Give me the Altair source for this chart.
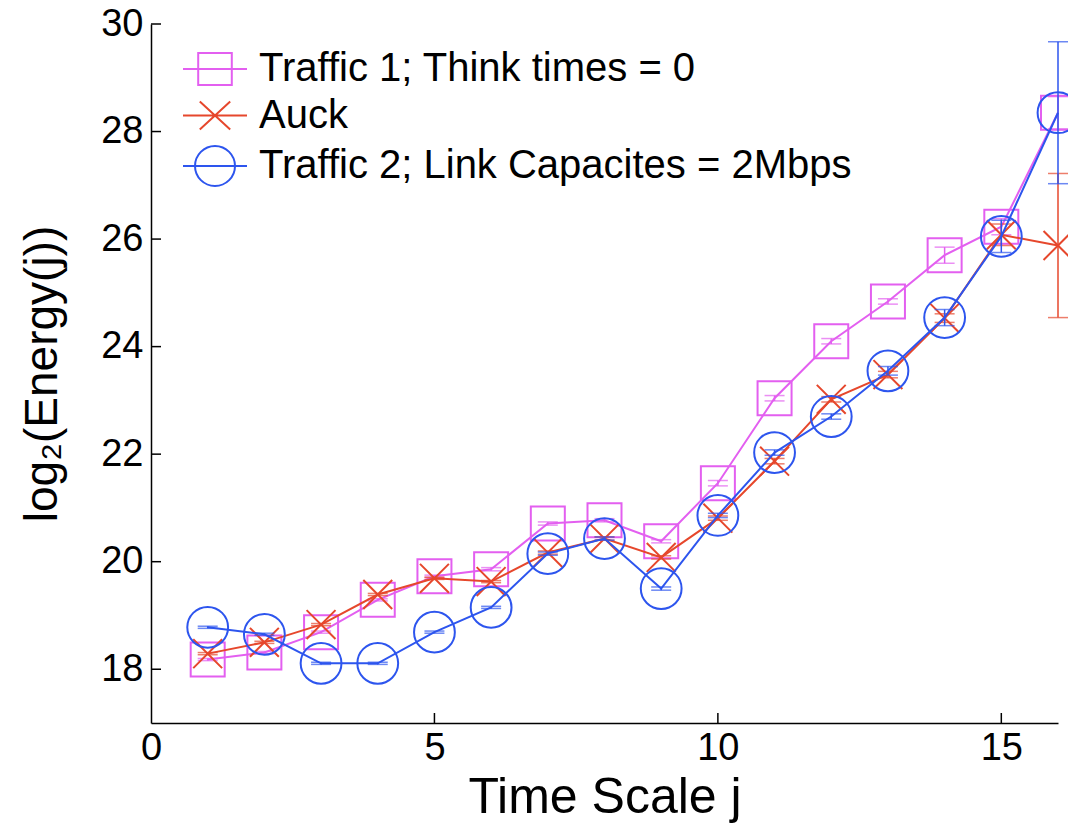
import altair as alt
import pandas as pd

# ---------------- data ----------------
scales_j = list(range(1, 17))
series_names = ["Traffic 1; Think times = 0", "Auck", "Traffic 2; Link Capacites = 2Mbps"]

traffic1 = [18.18, 18.31, 18.69, 19.29, 19.73, 19.86, 20.71, 20.77, 20.38, 21.46,
            23.04, 24.10, 24.84, 25.70, 26.23, 28.35]
auck = [18.29, 18.50, 18.83, 19.39, 19.69, 19.63, 20.17, 20.43, 20.08, 20.81,
        21.87, 23.02, 23.48, 24.53, 26.08, 25.88]
traffic2 = [18.78, 18.65, 18.11, 18.11, 18.69, 19.15, 20.15, 20.43, 19.50, 20.86,
            22.03, 22.70, 23.55, 24.54, 26.05, 28.35]

err_traffic1 = [0.02, 0.02, 0.02, 0.02, 0.02, 0.03, 0.03, 0.03, 0.03, 0.05,
                0.05, 0.05, 0.05, 0.15, 0.15, 0.30]
err_auck = [0.02, 0.02, 0.02, 0.02, 0.02, 0.02, 0.03, 0.03, 0.03, 0.04,
            0.05, 0.05, 0.06, 0.08, 0.20, 1.34]
err_traffic2 = [0.02, 0.02, 0.02, 0.02, 0.02, 0.02, 0.03, 0.03, 0.03, 0.04,
                0.05, 0.05, 0.08, 0.15, 0.30, 1.32]

y_tick_values = [18, 20, 22, 24, 26, 28, 30]
x_tick_values = [0, 5, 10, 15]

# ---------------- styles ----------------
FONT = "Liberation Sans"
colors = ["#e35ff0", "#e6472c", "#2d55ee"]
point_paths = [
    "M-1,-1H1V1H-1Z",
    "M-0.85,-0.85L0.85,0.85M-0.85,0.85L0.85,-0.85",
    "M1.2,0A1.2,1.2 0 1,1 -1.2,0A1.2,1.2 0 1,1 1.2,0",
]
legend_paths = [
    "M-2,0H2M-1.05,-1H1.05V1H-1.05Z",
    "M-2,0H2M-0.95,-0.87L0.95,0.87M-0.95,0.87L0.95,-0.87",
    "M-2,0H2M1.25,0A1.25,1.25 0 1,1 -1.25,0A1.25,1.25 0 1,1 1.25,0",
]

W, H = 907, 699

rows = []
for name, vals, errs in zip(series_names, [traffic1, auck, traffic2],
                            [err_traffic1, err_auck, err_traffic2]):
    for j, v, e in zip(scales_j, vals, errs):
        rows.append({"series": name, "j": j, "v": v, "lo": v - e, "hi": v + e})
df = pd.DataFrame(rows)

x_scale = alt.Scale(domain=[0, 16], nice=False, zero=False)
y_scale = alt.Scale(domain=[17, 30], nice=False, zero=False)

axis_x = alt.Axis(values=x_tick_values, ticks=False, grid=False, labelFlush=False,
                  labelFontSize=38, labelFont=FONT, labelColor="black", labelPadding=6,
                  domainColor="black", domainWidth=1.5,
                  title="Time Scale j", titleFont=FONT, titleFontSize=50,
                  titleFontWeight="normal", titleColor="black",
                  titleX=W / 2, titleY=89, titleBaseline="alphabetic", titleAlign="center")
axis_y = alt.Axis(values=y_tick_values, ticks=False, grid=False,
                  labelFontSize=38, labelFont=FONT, labelColor="black", labelPadding=8,
                  domainColor="black", domainWidth=1.5,
                  title="log₂(Energy(j))", titleFont=FONT, titleFontSize=46,
                  titleFontWeight="normal", titleColor="black",
                  titleX=-95, titleY=H / 2, titleBaseline="alphabetic", titleAlign="center",
                  titleAngle=270)

X = alt.X("j:Q", scale=x_scale, axis=axis_x)
Y = alt.Y("v:Q", scale=y_scale, axis=axis_y)

base = alt.Chart(df)
layers = []
for name, color, path in zip(series_names, colors, point_paths):
    sub = base.transform_filter(alt.datum.series == name)
    line = sub.mark_line(color=color, strokeWidth=2).encode(x=X, y=Y)
    bar = sub.mark_rule(color=color, strokeWidth=1.5).encode(
        x=X, y=alt.Y("lo:Q", scale=y_scale, axis=axis_y), y2="hi:Q")
    cap_lo = sub.mark_tick(orient="horizontal", color=color, size=20, thickness=1.5).encode(
        x=X, y=alt.Y("lo:Q", scale=y_scale, axis=axis_y))
    cap_hi = sub.mark_tick(orient="horizontal", color=color, size=20, thickness=1.5).encode(
        x=X, y=alt.Y("hi:Q", scale=y_scale, axis=axis_y))
    pts = sub.mark_point(shape=path, color=color, size=1156, strokeWidth=2,
                         filled=False, opacity=1).encode(x=X, y=Y)
    layers += [line, bar, cap_lo, cap_hi, pts]

# inward tick marks (MATLAB style)
yt = alt.Chart(pd.DataFrame({"t": y_tick_values})).mark_rule(color="black", strokeWidth=1.5).encode(
    y=alt.Y("t:Q", scale=y_scale, axis=axis_y), x=alt.value(0), x2=alt.value(10))
xt = alt.Chart(pd.DataFrame({"t": x_tick_values[1:]})).mark_rule(color="black", strokeWidth=1.5).encode(
    x=alt.X("t:Q", scale=x_scale, axis=axis_x), y=alt.value(H), y2=alt.value(H - 10))

leg = dict(orient="none", legendX=44, legendY=25, title=None,
           labelFontSize=40, labelFont=FONT, labelColor="black",
           labelLimit=1000, symbolSize=1024, symbolStrokeWidth=2,
           labelOffset=24, rowPadding=6.5, padding=0)

legend_layer = base.transform_filter("datum.j > 100").mark_point(
    filled=False, strokeWidth=2, opacity=1).encode(
    x=X, y=Y,
    color=alt.Color("series:N", scale=alt.Scale(domain=series_names, range=colors),
                    legend=alt.Legend(**leg)),
    shape=alt.Shape("series:N", scale=alt.Scale(domain=series_names, range=legend_paths),
                    legend=alt.Legend(**leg)),
)

chart = alt.layer(*layers, yt, xt, legend_layer).properties(
    width=W, height=H,
    autosize=alt.AutoSizeParams(type="none"),
    padding={"left": 151, "top": 24, "right": 10, "bottom": 100},
    background="white",
).configure_view(stroke=None)

chart.save("out.html", embed_options={"renderer": "svg", "actions": False})
